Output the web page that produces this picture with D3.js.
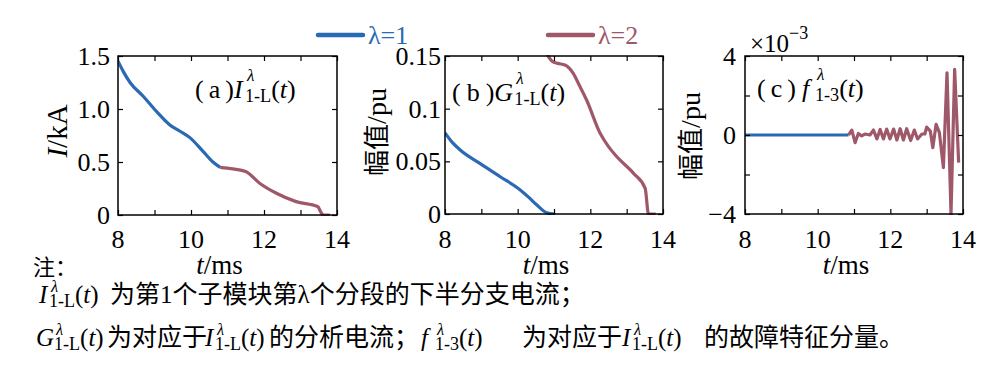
<!DOCTYPE html>
<html>
<head>
<meta charset="utf-8">
<script src="https://cdn.jsdelivr.net/npm/d3@7"></script>
<style>
  body { margin: 0; background: #fff; }
  svg { display: block; }
</style>
</head>
<body>
<svg id="chart" width="995" height="373" font-family="'Liberation Serif', serif"></svg>
<script>
// t axis (ms)
const tTicks = [8, 9, 10, 11, 12, 13, 14];
const tLabels = [8, 10, 12, 14];

// (a) I_1-L(t), kA
const iL1 = [[8.0, 1.45], [8.15, 1.35], [8.33, 1.25], [8.69, 1.12], [9.06, 0.975], [9.42, 0.85],
  [9.7, 0.79], [9.97, 0.73], [10.33, 0.6], [10.6, 0.5], [10.8, 0.45]];
const iL2 = [[10.8, 0.45], [11.15, 0.435], [11.5, 0.41], [11.88, 0.3], [12.34, 0.205], [12.88, 0.126],
  [13.47, 0.08], [13.57, 0.02], [13.62, 0], [13.8, 0]];

// (b) G_1-L(t), pu
const gL1 = [[8.0, 0.077], [8.2, 0.068], [8.41, 0.061], [8.96, 0.048], [9.52, 0.0354], [10.07, 0.0228],
  [10.3, 0.016], [10.53, 0.0085], [10.8, 0.0012], [11.03, 0]];
const gL2 = [[10.8, 0.152], [10.95, 0.145], [11.1, 0.143], [11.3, 0.1415], [11.53, 0.1336], [11.7, 0.122],
  [11.9, 0.108], [12.27, 0.0766], [12.5, 0.064], [12.73, 0.0544], [13.19, 0.0386], [13.51, 0.0244],
  [13.6, 0], [13.8, 0]];

// (c) f_1-3(t), x1e-3 pu
const f1 = [[8.0, 0], [10.85, 0]];
const f2 = [[10.85, 0], [10.94, 0.25], [11.03, -0.39], [11.12, 0.08], [11.21, -0.05], [11.3, 0.05],
  [11.44, 0], [11.535, 0.25], [11.63, -0.2], [11.72, 0.28], [11.81, -0.2], [11.9, 0.3], [11.99, -0.2],
  [12.09, 0.3], [12.18, -0.25], [12.27, 0.32], [12.36, -0.25], [12.45, 0.32], [12.56, -0.28],
  [12.66, 0.25], [12.75, -0.2], [12.87, 0.05], [12.95, 0.05], [13.0, 0.4], [13.1, 0.2], [13.17, -0.64],
  [13.26, 0.54], [13.35, 0.12], [13.46, -1.65], [13.56, 3.15], [13.67, -4.0], [13.77, 3.33], [13.88, -1.4]];

const yTicksA = [0, 0.5, 1, 1.5], yLabelsA = ["0", "0.5", "1.0", "1.5"];
const yTicksB = [0, 0.05, 0.1, 0.15], yLabelsB = ["0", "0.05", "0.1", "0.15"];
const yTicksC = [-4, -2, 0, 2, 4], yLabelsC = { "-4": "\u22124", "0": "0", "4": "4" };

const legendNames = ["\u03bb=1", "\u03bb=2"];
const blue = "#2a6ab2", red = "#9f5869";
const CJK = "'Noto Sans CJK SC', sans-serif";

const svg = d3.select("#chart");

// rich text in one <text>: italic pieces, cjk pieces, stacked sub/sup
function rich(g, x, y, size, tokens, opt) {
  opt = opt || {};
  const supUp = opt.supUp || 0.66, subSize = opt.subSize || 0.7;
  const text = g.append("text").attr("x", x).attr("y", y).attr("font-size", size);
  let back = 0;
  tokens.forEach(tok => {
    if (tok.sub) {
      const bb = text.node().getBBox();
      const sx = bb.x + bb.width + (tok.gap || 0);
      const dsub = size * 0.17, up = size * supUp;
      text.append("tspan").attr("x", sx + (tok.supDx || 2)).attr("dy", -up - back)
        .attr("font-size", size * 0.66).attr("font-style", "italic").text(tok.sup);
      text.append("tspan").attr("x", sx).attr("dy", up + dsub)
        .attr("font-size", size * subSize).text(tok.sub);
      back = dsub;
    } else {
      const ts = text.append("tspan").attr("dy", -back || null).attr("dx", tok.dx || null)
        .attr("font-style", tok.it ? "italic" : null)
        .attr("font-family", tok.cjk ? CJK : null).text(tok.t);
      if (tok.x !== undefined) ts.attr("x", tok.x);
      back = 0;
    }
  });
  return text;
}

const panels = [
  { x0: 118, x1: 337, y0: 56, y1: 215, dom: [0, 1.5], ticks: yTicksA, labs: v => yLabelsA[yTicksA.indexOf(v)],
    s1: iL1, s2: iL2, curve: d3.curveMonotoneX, labGap: 8 },
  { x0: 445, x1: 663, y0: 56, y1: 214, dom: [0, 0.15], ticks: yTicksB, labs: v => yLabelsB[yTicksB.indexOf(v)],
    s1: gL1, s2: gL2, curve: d3.curveMonotoneX, labGap: 4 },
  { x0: 745, x1: 963, y0: 56, y1: 214, dom: [-4, 4], ticks: yTicksC, labs: v => yLabelsC[v],
    s1: f1, s2: f2, curve: d3.curveLinear, labGap: 9 }
];

panels.forEach((p, i) => {
  const x = d3.scaleLinear().domain([8, 14]).range([p.x0, p.x1]);
  const y = d3.scaleLinear().domain(p.dom).range([p.y1, p.y0]);
  const g = svg.append("g");
  const clipId = "clip" + i;
  svg.append("clipPath").attr("id", clipId).append("rect")
    .attr("x", p.x0).attr("y", p.y0 - 1).attr("width", p.x1 - p.x0).attr("height", p.y1 - p.y0 + 2);

  const line = d3.line().x(d => x(d[0])).y(d => y(d[1])).curve(p.curve);
  g.append("path").datum(p.s1).attr("d", line).attr("fill", "none")
    .attr("stroke", blue).attr("stroke-width", 3.2).attr("clip-path", `url(#${clipId})`);
  g.append("path").datum(p.s2).attr("d", line).attr("fill", "none")
    .attr("stroke", red).attr("stroke-width", 3.2).attr("stroke-linejoin", "round")
    .attr("clip-path", `url(#${clipId})`);

  // axes with inward ticks on all sides
  const tk = 5;
  g.append("g").attr("transform", `translate(0,${p.y1})`)
    .call(d3.axisBottom(x).tickValues(tTicks).tickSizeInner(-tk).tickSizeOuter(0).tickFormat(""));
  g.append("g").attr("transform", `translate(0,${p.y0})`)
    .call(d3.axisTop(x).tickValues(tTicks).tickSizeInner(-tk).tickSizeOuter(0).tickFormat(""));
  g.append("g").attr("transform", `translate(${p.x0},0)`)
    .call(d3.axisLeft(y).tickValues(p.ticks).tickSizeInner(-tk).tickSizeOuter(0).tickFormat(""));
  g.append("g").attr("transform", `translate(${p.x1},0)`)
    .call(d3.axisRight(y).tickValues(p.ticks).tickSizeInner(-tk).tickSizeOuter(0).tickFormat(""));
  g.selectAll(".domain").remove();
  g.selectAll(".tick line").attr("stroke", "#000").attr("stroke-width", 1.2);
  g.append("rect").attr("x", p.x0).attr("y", p.y0).attr("width", p.x1 - p.x0).attr("height", p.y1 - p.y0)
    .attr("fill", "none").attr("stroke", "#000").attr("stroke-width", 1.5);

  g.selectAll(".xl").data(tLabels).enter().append("text")
    .attr("x", d => x(d)).attr("y", 248).attr("text-anchor", "middle")
    .attr("font-size", 26).text(d => d);
  g.selectAll(".yl").data(p.ticks.filter(v => p.labs(v) !== undefined)).enter().append("text")
    .attr("x", p.x0 - p.labGap).attr("y", d => y(d) + 9).attr("text-anchor", "end")
    .attr("font-size", 26).text(d => p.labs(d));

  // x label
  const xt = g.append("text").attr("x", (p.x0 + p.x1) / 2 - 8).attr("y", 274)
    .attr("text-anchor", "middle").attr("font-size", 27);
  xt.append("tspan").attr("font-style", "italic").text("t");
  xt.append("tspan").text("/ms");
});

// y labels
const ya = svg.append("text").attr("transform", "translate(67,131) rotate(-90)")
  .attr("text-anchor", "middle").attr("font-size", 29);
ya.append("tspan").attr("font-style", "italic").text("I");
ya.append("tspan").text("/kA");
[[386, 132], [700, 136]].forEach(d => {
  const t = svg.append("text").attr("transform", `translate(${d[0]},${d[1]}) rotate(-90)`)
    .attr("text-anchor", "middle").attr("font-size", 26);
  t.append("tspan").attr("font-family", CJK).text("幅值");
  t.append("tspan").attr("font-size", 28).text("/pu");
});

// exponent of panel c
const ex = svg.append("text").attr("x", 750).attr("y", 52).attr("font-size", 25);
ex.append("tspan").text("\u00d710");
ex.append("tspan").attr("dy", -13).attr("font-size", 18).text("\u22123");

// panel titles
rich(svg, 195, 98, 26, [{ t: "(" }, { t: "a", dx: 5 }, { t: ")", dx: 5 }, { t: "I", it: true },
  { sub: "1-L", sup: "\u03bb", gap: 1 }, { t: "(" }, { t: "t", it: true }, { t: ")" }]);
rich(svg, 452, 101, 26, [{ t: "(" }, { t: "b", dx: 6 }, { t: ")", dx: 6 }, { t: "G", it: true },
  { sub: "1-L", sup: "\u03bb", gap: 1 }, { t: "(" }, { t: "t", it: true }, { t: ")" }]);
rich(svg, 757, 97, 26, [{ t: "(" }, { t: "c", dx: 5 }, { t: ")", dx: 5 }, { t: "f", it: true, dx: 6 },
  { sub: "1-3", sup: "\u03bb", gap: 2 }, { t: "(" }, { t: "t", it: true }, { t: ")" }]);

// legend
const lg = svg.append("g");
[[318, 363, blue], [548, 593, red]].forEach((d, i) => {
  lg.append("line").attr("x1", d[0]).attr("x2", d[1]).attr("y1", 35).attr("y2", 35)
    .attr("stroke", d[2]).attr("stroke-width", 4.5).attr("stroke-linecap", "round");
  lg.append("text").attr("x", d[1] + 5).attr("y", 44).attr("font-size", 26)
    .attr("fill", d[2]).text(legendNames[i]);
});

// notes
svg.append("text").attr("x", 33).attr("y", 275).attr("font-size", 22)
  .attr("font-family", CJK).text("注：");
const sub1 = { sub: "1-L", sup: "\u03bb", gap: 0 };
const nopt = { supUp: 0.44, subSize: 0.72 };
rich(svg, 39, 303, 25, [{ t: "I", it: true }, sub1, { t: "(" }, { t: "t", it: true }, { t: ")" },
  { t: "为第", cjk: true, x: 110 }, { t: "1" }, { t: "个子模块第", cjk: true }, { t: "\u03bb" },
  { t: "个分段的下半分支电流；", cjk: true }], nopt);
rich(svg, 36, 346, 25, [{ t: "G", it: true }, sub1, { t: "(" }, { t: "t", it: true }, { t: ")" },
  { t: "为对应于", cjk: true, x: 107 }, { t: "I", it: true, x: 205 }, sub1, { t: "(" }, { t: "t", it: true }, { t: ")" },
  { t: "的分析电流；", cjk: true, x: 269 }, { t: "f", it: true, x: 421 },
  { sub: "1-3", sup: "\u03bb", gap: 4 },
  { t: "(" }, { t: "t", it: true }, { t: ")" }, { t: "为对应于", cjk: true, x: 522 },
  { t: "I", it: true, x: 622 }, sub1,
  { t: "(" }, { t: "t", it: true }, { t: ")" },
  { t: "的故障特征分量。", cjk: true, x: 704 }], nopt);
</script>
</body>
</html>
